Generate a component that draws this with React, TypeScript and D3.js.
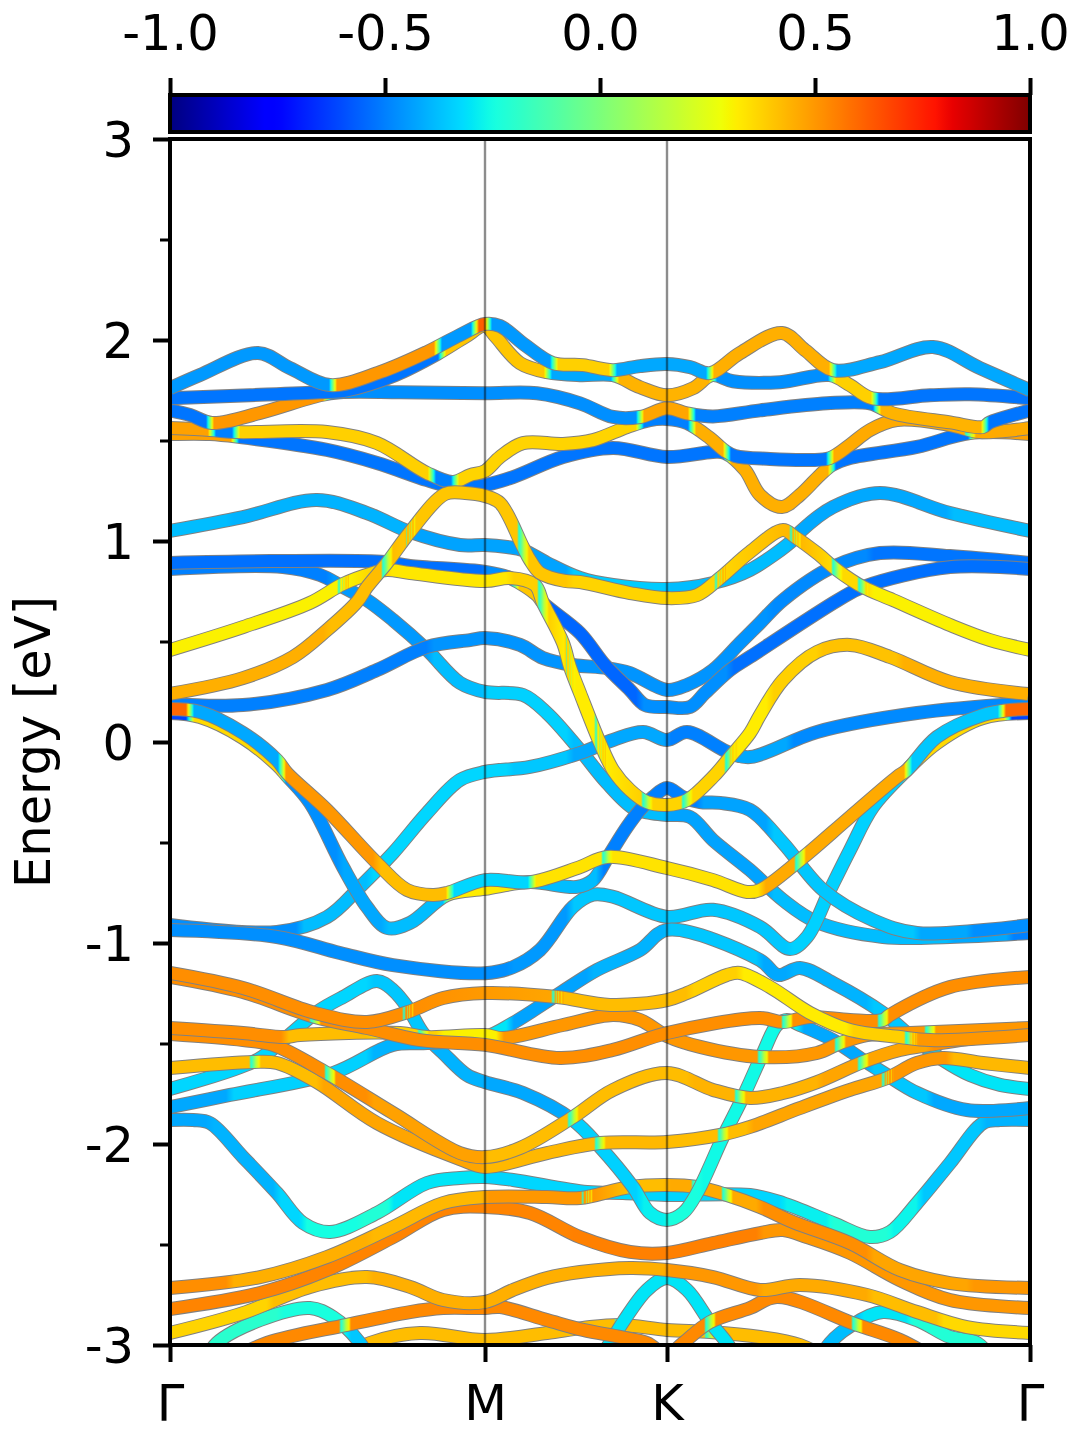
import * as d3 from "d3";
import { useEffect, useRef } from "react";

type Knot = [number, number];

// k is distance along the path, Gamma-M-K-Gamma
const kMax = 860;
const kTicks = [0, 315, 497, 860];
const kLabels = ["Γ", "M", "K", "Γ"];
const yMajor = [-3, -2, -1, 0, 1, 2, 3];
const yMinor = [-2.5, -1.5, -0.5, 0.5, 1.5, 2.5];
const cbarTicks = [-1, -0.5, 0, 0.5, 1];

// each band: [k, energy in eV], colour runs: [k, projection], and crossings
const top1: Knot[] = [[0,1.76],[30,1.826],[88,1.935],[120,1.86],[160,1.776],[210,1.84],[257,1.94],[290,2.025],[315,2.08],[330,2.07],[355,1.975],[383,1.885],[413,1.875],[443,1.85],[470,1.87],[497,1.88],[520,1.865],[540,1.835],[570,1.935],[612,2.035],[635,1.95],[663,1.85],[710,1.89],[763,1.965],[810,1.86],[860,1.75]];
const top1C: Knot[] = [[0,-0.45],[163,0.5],[268,-0.45],[305,0.62],[318,-0.45],[384,0.38],[443,-0.42],[540,0.45],[663,-0.42]];
const top2: Knot[] = [[0,1.71],[80,1.725],[150,1.74],[177,1.75],[225,1.825],[267,1.93],[295,2.015],[315,2.07],[325,2.02],[350,1.885],[377,1.84],[410,1.825],[443,1.825],[470,1.765],[497,1.725],[523,1.76],[542,1.825],[563,1.795],[610,1.79],[660,1.825],[680,1.775],[702,1.71],[760,1.725],[800,1.73],[860,1.71]];
const top2C: Knot[] = [[0,-0.52],[272,0.4],[378,-0.42],[445,0.44],[543,-0.47],[662,0.38],[705,-0.52]];
const top3: Knot[] = [[0,1.65],[20,1.627],[42,1.587],[90,1.637],[150,1.725],[170,1.74],[230,1.74],[315,1.735],[367,1.735],[410,1.685],[443,1.617],[470,1.617],[497,1.66],[517,1.635],[543,1.62],[590,1.65],[657,1.685],[700,1.685],[723,1.635],[780,1.59],[813,1.567],[820,1.59],[860,1.65]];
const top3C: Knot[] = [[0,-0.52],[40,0.5],[157,-0.47],[470,0.47],[522,-0.5],[707,0.44],[815,-0.52]];
const top4: Knot[] = [[0,1.562],[40,1.552],[67,1.542],[157,1.542],[207,1.487],[257,1.338],[283,1.294],[300,1.328],[315,1.348],[330,1.418],[353,1.487],[393,1.483],[423,1.502],[457,1.567],[480,1.602],[497,1.607],[517,1.587],[540,1.512],[555,1.448],[565,1.423],[600,1.408],[640,1.403],[660,1.413],[680,1.478],[700,1.552],[727,1.602],[780,1.577],[810,1.542],[860,1.562]];
const top4C: Knot[] = [[0,0.48],[42,-0.5],[66,0.38],[262,-0.5],[285,0.37],[470,-0.5],[522,0.45],[557,-0.52],[660,0.46]];
const top5: Knot[] = [[0,1.532],[40,1.532],[70,1.517],[157,1.453],[207,1.388],[257,1.303],[283,1.269],[315,1.279],[343,1.318],[393,1.418],[443,1.463],[497,1.418],[543,1.443],[555,1.438],[575,1.353],[590,1.229],[612,1.169],[630,1.229],[650,1.328],[662,1.378],[680,1.413],[747,1.468],[800,1.537],[860,1.532]];
const top5C: Knot[] = [[0,0.48],[65,-0.52],[557,0.45],[662,-0.52],[802,0.48]];

const mid1: Knot[] = [[0,1.05],[73,1.119],[147,1.204],[197,1.139],[240,1.045],[290,0.98],[315,0.98],[337,0.97],[353,0.955],[377,0.891],[410,0.816],[443,0.781],[497,0.761],[543,0.791],[580,0.856],[623,1.005],[630,1.045],[663,1.169],[710,1.239],[780,1.139],[860,1.05]];
const mid1C: Knot[] = [[0,-0.38],[60,-0.4],[240,-0.43],[400,-0.35],[497,-0.38],[623,-0.42],[780,-0.38]];
const deep: Knot[] = [[0,0.891],[100,0.9],[215,0.896],[240,0.876],[315,0.846],[340,0.816],[367,0.731],[373,0.692],[410,0.542],[435,0.383],[460,0.259],[475,0.184],[497,0.174],[520,0.174],[535,0.244],[560,0.358],[580,0.423],[668,0.706],[693,0.771],[780,0.87],[860,0.861]];
const deepC: Knot[] = [[0,-0.53],[315,-0.47],[345,0.4],[374,-0.55],[470,-0.47],[560,-0.53]];
const mid2: Knot[] = [[0,0.189],[73,0.184],[157,0.259],[207,0.358],[257,0.473],[300,0.507],[315,0.517],[350,0.483],[373,0.418],[403,0.383],[437,0.368],[460,0.343],[497,0.259],[517,0.284],[543,0.358],[570,0.493],[590,0.592],[613,0.706],[663,0.871],[710,0.94],[780,0.925],[860,0.891]];
const mid2C: Knot[] = [[0,-0.5],[260,-0.46],[600,-0.48],[700,-0.52]];
const mid3: Knot[] = [[0,0.861],[113,0.871],[150,0.831],[173,0.771],[197,0.706],[223,0.607],[257,0.458],[290,0.294],[315,0.249],[353,0.234],[377,0.144],[410,-0.04],[437,-0.204],[463,-0.328],[480,-0.353],[497,-0.363],[520,-0.373],[543,-0.488],[580,-0.637],[613,-0.786],[647,-0.896],[713,-0.97],[780,-0.97],[860,-0.95]];
const mid3C: Knot[] = [[0,-0.5],[160,-0.45],[260,-0.38],[315,-0.34],[400,-0.38],[497,-0.43],[600,-0.38],[780,-0.42],[840,-0.5]];
const vee: Knot[] = [[0,-0.91],[107,-0.945],[157,-0.871],[190,-0.721],[223,-0.552],[257,-0.353],[290,-0.189],[315,-0.149],[360,-0.124],[410,-0.055],[443,0.01],[473,0.05],[497,0.01],[517,0.05],[560,-0.055],[580,-0.075],[647,0.05],[747,0.144],[860,0.194]];
const veeC: Knot[] = [[0,-0.47],[130,-0.38],[200,-0.33],[340,-0.36],[400,-0.42],[497,-0.5],[560,-0.42],[620,-0.48]];
const low1: Knot[] = [[0,-0.935],[107,-0.97],[170,-1.05],[223,-1.11],[315,-1.15],[343,-1.12],[370,-1.035],[403,-0.82],[423,-0.76],[443,-0.77],[497,-0.87],[543,-0.835],[590,-0.92],[620,-1.03],[637,-0.97],[660,-0.736],[680,-0.537],[703,-0.323],[737,-0.139],[767,-0.005],[813,0.119],[860,0.144]];
const low1C: Knot[] = [[0,-0.47],[340,-0.45],[400,-0.36],[620,-0.34],[737,0.36],[838,-0.62]];
const upperP: Knot[] = [[0,0.164],[30,0.149],[73,0.045],[107,-0.09],[117,-0.154],[157,-0.338],[207,-0.602],[237,-0.736],[263,-0.761],[277,-0.751],[315,-0.687],[360,-0.697],[410,-0.622],[437,-0.572],[497,-0.627],[543,-0.687],[577,-0.746],[590,-0.736],[630,-0.587],[680,-0.373],[727,-0.174],[737,-0.139],[767,0.025],[813,0.134],[840,0.159],[860,0.164]];
const upperPC: Knot[] = [[0,0.6],[20,-0.42],[112,0.5],[207,0.42],[280,-0.33],[362,0.34],[592,0.46],[738,-0.36],[832,0.6]];
const lowerQ: Knot[] = [[0,0.144],[30,0.124],[73,0.02],[107,-0.114],[117,-0.169],[140,-0.303],[173,-0.622],[197,-0.821],[217,-0.925],[240,-0.9],[277,-0.761],[315,-0.731],[360,-0.697],[407,-0.721],[423,-0.687],[438,-0.572],[457,-0.423],[470,-0.338],[483,-0.274],[497,-0.229],[513,-0.274],[530,-0.299],[550,-0.303],[580,-0.338],[613,-0.502],[653,-0.736],[703,-0.886],[747,-0.95],[860,-0.91]];
const lowerQC: Knot[] = [[0,-0.62],[20,0.36],[112,-0.47],[170,-0.42],[215,-0.38],[277,0.32],[362,-0.38],[430,-0.5],[530,-0.43],[600,-0.36],[747,-0.42],[800,-0.47]];

const cyanPeak: Knot[] = [[0,-1.726],[87,-1.582],[117,-1.468],[147,-1.343],[173,-1.269],[207,-1.189],[223,-1.234],[238,-1.323],[253,-1.448],[273,-1.547],[297,-1.657],[315,-1.692],[353,-1.746],[403,-1.881],[430,-2.015],[463,-2.214],[480,-2.343],[497,-2.378],[513,-2.343],[527,-2.244],[553,-1.965],[573,-1.766],[593,-1.547],[607,-1.408],[617,-1.383],[630,-1.408],[663,-1.483],[693,-1.582],[717,-1.657],[747,-1.746],[797,-1.831],[860,-1.821]];
const cyanPeakC: Knot[] = [[0,-0.33],[200,-0.36],[260,-0.4],[315,-0.42],[400,-0.34],[470,-0.28],[497,-0.24],[530,-0.26],[610,-0.28],[630,-0.42],[700,-0.36],[760,-0.42]];
const cyanDip: Knot[] = [[0,-1.881],[23,-1.881],[40,-1.896],[73,-2.065],[107,-2.244],[133,-2.393],[160,-2.438],[207,-2.343],[257,-2.194],[290,-2.169],[315,-2.164],[343,-2.179],[417,-2.239],[453,-2.244],[497,-2.254],[580,-2.254],[613,-2.294],[663,-2.393],[700,-2.463],[720,-2.438],[747,-2.294],[780,-2.095],[813,-1.896],[830,-1.881],[860,-1.881]];
const cyanDipC: Knot[] = [[0,-0.42],[40,-0.4],[107,-0.33],[133,-0.25],[190,-0.22],[220,-0.3],[315,-0.33],[613,-0.28],[660,-0.22],[720,-0.27],[750,-0.36],[813,-0.4]];
const cyanRise: Knot[] = [[0,-1.816],[60,-1.756],[163,-1.647],[223,-1.507],[257,-1.498],[315,-1.468],[343,-1.398],[390,-1.249],[427,-1.134],[470,-1.035],[497,-0.935],[590,-1.085],[608,-1.159],[630,-1.124],[663,-1.199],[713,-1.348],[737,-1.448],[755,-1.517],[773,-1.582],[800,-1.657],[830,-1.706],[860,-1.726]];
const cyanRiseC: Knot[] = [[0,-0.42],[60,-0.34],[200,-0.4],[260,-0.43],[300,-0.3],[340,-0.43],[420,-0.4],[497,-0.36],[590,-0.42],[620,-0.4],[700,-0.36],[760,-0.3]];

const orangeA: Knot[] = [[0,-1.169],[73,-1.244],[145,-1.368],[197,-1.423],[250,-1.483],[315,-1.507],[390,-1.572],[443,-1.532],[497,-1.448],[590,-1.373],[613,-1.393],[640,-1.368],[680,-1.383],[713,-1.383],[720,-1.358],[780,-1.219],[860,-1.169]];
const orangeAC: Knot[] = [[0,0.52],[860,0.52]];
const orangeB: Knot[] = [[0,-1.423],[73,-1.448],[115,-1.468],[130,-1.458],[230,-1.448],[257,-1.468],[315,-1.458],[333,-1.473],[393,-1.408],[443,-1.358],[470,-1.383],[497,-1.463],[530,-1.517],[590,-1.567],[647,-1.547],[670,-1.498],[697,-1.458],[740,-1.448],[860,-1.423]];
const orangeBC: Knot[] = [[0,0.52],[115,0.42],[200,0.38],[270,0.31],[330,0.5]];
const orangeC: Knot[] = [[0,-1.149],[73,-1.224],[145,-1.348],[197,-1.393],[238,-1.343],[273,-1.274],[315,-1.249],[387,-1.269],[440,-1.308],[497,-1.284],[517,-1.249],[557,-1.159],[570,-1.149],[600,-1.219],[640,-1.348],[680,-1.433],[730,-1.468],[760,-1.483],[860,-1.458]];
const orangeCC: Knot[] = [[0,0.52],[240,0.47],[390,0.42],[520,0.38],[570,0.32],[680,0.38],[745,0.5]];
const slopeA: Knot[] = [[0,-1.453],[73,-1.483],[103,-1.507],[157,-1.647],[223,-1.846],[290,-2.045],[315,-2.065],[350,-2.02],[403,-1.866],[443,-1.731],[497,-1.647],[543,-1.731],[580,-1.771],[613,-1.746],[647,-1.692],[693,-1.592],[730,-1.532],[760,-1.507],[813,-1.468],[860,-1.453]];
const slopeAC: Knot[] = [[0,0.52],[200,0.48],[315,0.42],[520,0.44],[650,0.47],[760,0.52]];
const slopeB: Knot[] = [[0,-1.622],[83,-1.592],[107,-1.597],[147,-1.692],[207,-1.896],[290,-2.075],[315,-2.114],[377,-2.045],[430,-1.995],[497,-1.99],[550,-1.955],[580,-1.915],[630,-1.821],[680,-1.731],[717,-1.672],[747,-1.597],[773,-1.572],[813,-1.597],[860,-1.622]];
const slopeBC: Knot[] = [[0,0.42],[150,0.47],[315,0.43],[497,0.42],[580,0.47],[720,0.5],[780,0.43]];

const deep1: Knot[] = [[0,-2.716],[90,-2.662],[157,-2.562],[223,-2.413],[273,-2.294],[315,-2.264],[377,-2.264],[410,-2.269],[460,-2.214],[497,-2.204],[527,-2.214],[557,-2.254],[590,-2.313],[623,-2.388],[680,-2.493],[730,-2.627],[780,-2.692],[860,-2.716]];
const deep1C: Knot[] = [[0,0.52],[60,0.45],[200,0.43],[315,0.5],[418,0.42],[497,0.46],[590,0.52],[700,0.47],[800,0.5]];
const deep2: Knot[] = [[0,-2.821],[90,-2.741],[157,-2.627],[223,-2.463],[273,-2.328],[315,-2.313],[360,-2.343],[410,-2.463],[460,-2.537],[497,-2.542],[543,-2.493],[590,-2.443],[613,-2.428],[637,-2.463],[680,-2.542],[730,-2.677],[780,-2.776],[860,-2.816]];
const deep2C: Knot[] = [[0,0.54],[400,0.55],[590,0.5],[860,0.52]];
const deep3: Knot[] = [[0,-2.94],[73,-2.841],[140,-2.711],[197,-2.662],[240,-2.711],[273,-2.776],[315,-2.786],[343,-2.726],[377,-2.667],[410,-2.637],[460,-2.617],[497,-2.627],[543,-2.662],[590,-2.726],[630,-2.701],[697,-2.751],[747,-2.836],[797,-2.911],[860,-2.94]];
const deep3C: Knot[] = [[0,0.37],[100,0.42],[200,0.45],[497,0.5],[590,0.46],[700,0.42],[770,0.36]];
const deep4: Knot[] = [[50,-3.1],[97,-2.99],[177,-2.9],[240,-2.836],[273,-2.816],[315,-2.816],[330,-2.811],[377,-2.876],[413,-2.925],[450,-2.96],[477,-2.99],[497,-3.05],[513,-2.99],[540,-2.886],[580,-2.816],[607,-2.761],[687,-2.9],[730,-2.975],[770,-3.085]];
const deep4C: Knot[] = [[50,0.53]];
const deep5: Knot[] = [[170,-3.075],[200,-2.99],[250,-2.94],[315,-2.975],[377,-2.94],[413,-2.915],[450,-2.9],[497,-2.925],[540,-2.935],[590,-2.96],[630,-3.0],[660,-3.075]];
const deep5C: Knot[] = [[170,0.42]];
const kPeak: Knot[] = [[425,-3.1],[440,-2.99],[453,-2.886],[477,-2.726],[497,-2.667],[517,-2.726],[540,-2.886],[557,-2.99],[570,-3.1]];
const kPeakC: Knot[] = [[425,-0.3]];
const aquaL: Knot[] = [[30,-3.124],[47,-2.99],[90,-2.876],[140,-2.816],[163,-2.861],[190,-2.99],[205,-3.124]];
const aquaLC: Knot[] = [[30,-0.2],[110,-0.24],[177,-0.36]];
const aquaR: Knot[] = [[645,-3.124],[660,-2.99],[687,-2.886],[713,-2.836],[747,-2.876],[780,-2.96],[807,-2.99],[830,-3.124]];
const aquaRC: Knot[] = [[645,-0.38],[690,-0.3],[740,-0.22]];

// gold, yellow U-shaped bands drawn last so their crossing patches stay visible
const goldU: Knot[] = [[0,0.458],[73,0.572],[140,0.692],[173,0.786],[203,0.841],[217,0.856],[240,0.841],[315,0.801],[340,0.816],[365,0.781],[373,0.692],[393,0.493],[400,0.373],[410,0.244],[430,-0.005],[443,-0.139],[460,-0.239],[477,-0.299],[497,-0.313],[517,-0.289],[543,-0.174],[560,-0.075],[580,0.045],[590,0.134],[613,0.308],[647,0.448],[680,0.483],[720,0.423],[780,0.299],[858,0.239]];
const goldUC: Knot[] = [[0,0.31],[175,0.4],[218,0.33],[340,0.38],[400,0.32],[432,0.38],[497,0.37],[565,0.32],[600,0.38],[650,0.41],[730,0.45]];
const goldSteep: Knot[] = [[0,0.239],[73,0.318],[123,0.423],[157,0.557],[187,0.697],[197,0.771],[217,0.891],[240,1.045],[275,1.234],[295,1.239],[315,1.224],[330,1.189],[353,0.97],[360,0.905],[370,0.841],[395,0.801],[410,0.796],[460,0.741],[497,0.716],[527,0.731],[550,0.816],[580,0.945],[613,1.055],[625,1.02],[647,0.94],[667,0.856],[693,0.771],[723,0.706],[780,0.582],[820,0.507],[860,0.458]];
const goldSteepC: Knot[] = [[0,0.45],[157,0.42],[240,0.4],[400,0.37],[552,0.43],[627,0.36],[700,0.31]];

const lineup = [
  { e: mid3, c: mid3C, x: [] as number[] },
  { e: mid2, c: mid2C, x: [] },
  { e: deep, c: deepC, x: [] },
  { e: mid1, c: mid1C, x: [] },
  { e: vee, c: veeC, x: [] },
  { e: low1, c: low1C, x: [] },
  { e: lowerQ, c: lowerQC, x: [] },
  { e: upperP, c: upperPC, x: [437, 630] },
  { e: top5, c: top5C, x: [] },
  { e: top4, c: top4C, x: [800] },
  { e: top3, c: top3C, x: [] },
  { e: top2, c: top2C, x: [] },
  { e: top1, c: top1C, x: [] },
  { e: deep5, c: deep5C, x: [450, 540] },
  { e: kPeak, c: kPeakC, x: [] },
  { e: aquaL, c: aquaLC, x: [] },
  { e: aquaR, c: aquaRC, x: [] },
  { e: deep4, c: deep4C, x: [175, 540, 687] },
  { e: deep3, c: deep3C, x: [] },
  { e: deep2, c: deep2C, x: [] },
  { e: cyanDip, c: cyanDipC, x: [] },
  { e: deep1, c: deep1C, x: [417, 463, 527, 557] },
  { e: cyanPeak, c: cyanPeakC, x: [] },
  { e: cyanRise, c: cyanRiseC, x: [] },
  { e: slopeB, c: slopeBC, x: [85, 430, 553, 717] },
  { e: slopeA, c: slopeAC, x: [160, 403, 570, 693] },
  { e: orangeB, c: orangeBC, x: [253, 593, 670, 760] },
  { e: orangeA, c: orangeAC, x: [145, 617, 713] },
  { e: orangeC, c: orangeCC, x: [238, 387, 740] },
  { e: goldU, c: goldUC, x: [173, 373, 400, 430, 477, 517, 560] },
  { e: goldSteep, c: goldSteepC, x: [217, 240, 353, 550, 625, 667, 693] },
];

const chan = (dom: number[], rng: number[]) => d3.scaleLinear().domain(dom).range(rng).clamp(true);
const red = chan([0, 0.35, 0.66, 0.89, 1], [0, 0, 1, 1, 0.5]);
const green = chan([0, 0.125, 0.375, 0.64, 0.91, 1], [0, 0, 1, 1, 0, 0]);
const blue = chan([0, 0.11, 0.34, 0.65, 1], [0.5, 1, 1, 0, 0]);
const norm = d3.scaleLinear().domain([-1, 1]).range([0, 1]);
const jet = (p: number) => {
  const t = norm(p);
  return d3.rgb(red(t) * 255, green(t) * 255, blue(t) * 255).formatHex();
};

// hold each colour run, ramp through the colormap over a few units at the change
function gradientStops(c: Knot[], cross: number[]) {
  const out: Knot[] = [[0, c[0][1]]];
  for (let i = 1; i < c.length; i++) {
    const [k, p] = c[i];
    const prev = c[i - 1][1];
    for (let s = 0; s <= 8; s++) {
      out.push([k - 4 + s, prev + ((p - prev) * s) / 8]);
    }
  }
  out.push([kMax, c[c.length - 1][1]]);
  const valueAt = (k: number) => {
    let v = c[0][1];
    c.forEach((d) => {
      if (d[0] <= k) v = d[1];
    });
    return v;
  };
  cross.forEach((k) => {
    const base = valueAt(k);
    out.push([k - 6, base], [k - 4, -0.22], [k - 1, -0.02], [k + 1, 0.14], [k + 4, 0.3], [k + 6, base]);
  });
  return out.sort((a, b) => a[0] - b[0]);
}

const font = "'DejaVu Sans', sans-serif";

export default function App() {
  const svgRef = useRef<SVGSVGElement | null>(null);

  useEffect(() => {
    if (!svgRef.current) return;
    const svg = d3.select(svgRef.current);
    svg.selectAll("*").remove();

    const left = 170;
    const right = 1030;
    const top = 139;
    const bottom = 1345;
    const x = d3.scaleLinear().domain([0, kMax]).range([left, right]);
    const y = d3.scaleLinear().domain([-3, 3]).range([bottom, top]);
    const cx = d3.scaleLinear().domain([-1, 1]).range([left, right]);

    const defs = svg.append("defs");
    defs.append("clipPath").attr("id", "plot").append("rect")
      .attr("x", left).attr("y", top).attr("width", right - left).attr("height", bottom - top);

    const line = d3.line<Knot>().x((d) => x(d[0])).y((d) => y(d[1])).curve(d3.curveCatmullRom.alpha(0.5));

    const plot = svg.append("g").attr("clip-path", "url(#plot)");
    lineup.forEach((b, i) => {
      const grad = defs.append("linearGradient")
        .attr("id", `band-${i}`)
        .attr("gradientUnits", "userSpaceOnUse")
        .attr("x1", left).attr("x2", right).attr("y1", 0).attr("y2", 0);
      gradientStops(b.c, b.x).forEach(([k, p]) => {
        grad.append("stop")
          .attr("offset", Math.min(1, Math.max(0, k / kMax)))
          .attr("stop-color", jet(p));
      });
      plot.append("path").attr("d", line(b.e)).attr("fill", "none")
        .attr("stroke", "#808080").attr("stroke-width", 14);
      plot.append("path").attr("d", line(b.e)).attr("fill", "none")
        .attr("stroke", `url(#band-${i})`).attr("stroke-width", 12);
    });

    // high-symmetry lines
    svg.append("g").selectAll("line").data(kTicks.slice(1, 3)).join("line")
      .attr("x1", (d) => x(d)).attr("x2", (d) => x(d))
      .attr("y1", top).attr("y2", bottom)
      .attr("stroke", "#000").attr("stroke-opacity", 0.45).attr("stroke-width", 2.4);

    svg.append("rect")
      .attr("x", left).attr("y", top).attr("width", right - left).attr("height", bottom - top)
      .attr("fill", "none").attr("stroke", "#000").attr("stroke-width", 4);

    const styleAxis = (g: any, width: number) => {
      g.select(".domain").remove();
      g.selectAll(".tick line").attr("stroke", "#000").attr("stroke-width", width);
      g.selectAll(".tick text")
        .attr("font-family", font).attr("font-size", 49.5).attr("fill", "#000");
    };

    const yAxis = svg.append("g").attr("transform", `translate(${left},0)`)
      .call(d3.axisLeft(y).tickValues(yMajor).tickSize(17).tickPadding(19).tickFormat((d) => String(d)));
    styleAxis(yAxis, 4);
    yAxis.selectAll(".tick text").attr("dy", "0.36em");

    const yMinorAxis = svg.append("g").attr("transform", `translate(${left},0)`)
      .call(d3.axisLeft(y).tickValues(yMinor).tickSize(10).tickFormat(() => ""));
    styleAxis(yMinorAxis, 3);

    const xAxis = svg.append("g").attr("transform", `translate(0,${bottom})`)
      .call(d3.axisBottom(x).tickValues(kTicks).tickSize(17).tickFormat((_, i) => kLabels[i]));
    styleAxis(xAxis, 4);
    xAxis.selectAll(".tick text").attr("y", 75).attr("dy", 0);

    svg.append("text")
      .attr("transform", "translate(50,742) rotate(-90)")
      .attr("text-anchor", "middle")
      .attr("font-family", font).attr("font-size", 49.5)
      .text("Energy [eV]");

    // colour bar
    const barGrad = defs.append("linearGradient").attr("id", "cbar");
    d3.range(0, 1.0001, 0.01).forEach((t) => {
      barGrad.append("stop").attr("offset", t).attr("stop-color", jet(cx.invert(left + t * (right - left))));
    });
    svg.append("rect")
      .attr("x", left).attr("y", 95).attr("width", right - left).attr("height", 37)
      .attr("fill", "url(#cbar)").attr("stroke", "#000").attr("stroke-width", 4);
    const barAxis = svg.append("g").attr("transform", "translate(0,95)")
      .call(d3.axisTop(cx).tickValues(cbarTicks).tickSize(17).tickPadding(28).tickFormat((d) => (+d).toFixed(1)));
    styleAxis(barAxis, 4);
  }, []);

  return (
    <svg
      ref={svgRef}
      width={1080}
      height={1440}
      style={{ position: "absolute", left: 0, top: 0, background: "#fff" }}
    />
  );
}
